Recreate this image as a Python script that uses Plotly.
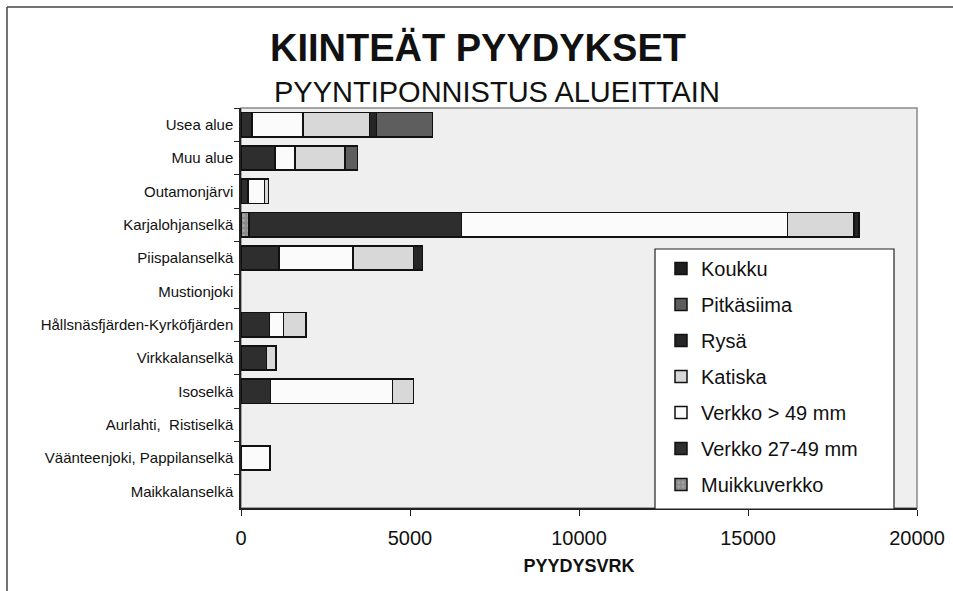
import plotly.graph_objects as go

categories = ["Usea alue", "Muu alue", "Outamonjärvi", "Karjalohjanselkä", "Piispalanselkä",
              "Mustionjoki", "Hållsnäsfjärden-Kyrköfjärden", "Virkkalanselkä", "Isoselkä",
              "Aurlahti,\u00a0\u00a0Ristiselkä", "Väänteenjoki, Pappilanselkä", "Maikkalanselkä"]

muikkuverkko = [None, None, None, 240, None, None, None, None, None, None, None, None]
verkko_27_49 = [330, 1010, 200, 6290, 1130, None, 850, 760, 880, None, None, None]
verkko_49 = [1510, 590, 500, 9640, 2190, None, 400, None, 3600, None, 860, None]
katiska = [1960, 1480, 120, 1960, 1780, None, 680, 280, 620, None, None, None]
rysa = [210, None, None, 150, 270, None, None, None, None, None, None, None]
pitkasiima = [1660, 360, None, None, None, None, None, None, None, None, None, None]
koukku = [None] * 12

x_ticks = [0, 5000, 10000, 15000, 20000]
x_tick_labels = ["0", "5000", "10000", "15000", "20000"]

series = [
    ("Muikkuverkko", muikkuverkko, "#8c8c8c", "."),
    ("Verkko 27-49 mm", verkko_27_49, "#2e2e2e", ""),
    ("Verkko > 49 mm", verkko_49, "#fbfbfb", ""),
    ("Katiska", katiska, "#d8d8d8", ""),
    ("Rysä", rysa, "#262626", ""),
    ("Pitkäsiima", pitkasiima, "#5e5e5e", ""),
    ("Koukku", koukku, "#1e1e1e", ""),
]

W, H = 953, 591
L, R, T, B = 241, 36, 108, 83
PW, PH = W - L - R, H - T - B


def px(x):
    return (x - L) / PW


def py(y):
    return (H - B - y) / PH


fig = go.Figure()
n = len(series)
for i, (name, vals, color, pat) in enumerate(series):
    fig.add_trace(go.Bar(
        y=categories, x=vals, name=name, orientation="h",
        marker=dict(color=color, line=dict(color="#111111", width=1.5),
                    pattern=dict(shape=pat, fgcolor="#bbbbbb", size=5, solidity=0.3) if pat else None),
        legendgroup=name, legendrank=n - i,
    ))

FONT = "Liberation Sans, Arial, sans-serif"

fig.update_layout(
    width=W, height=H,
    barmode="stack", bargap=0.27,
    paper_bgcolor="white", plot_bgcolor="#efefef",
    margin=dict(l=L, r=R, t=T, b=B, autoexpand=False),
    font=dict(family=FONT, color="#111111"),
    showlegend=True,
    legend=dict(
        x=px(661), y=py(249), xanchor="left", yanchor="top",
        bgcolor="rgba(0,0,0,0)", borderwidth=0,
        font=dict(size=20, family=FONT, color="#111111"),
        traceorder="grouped", tracegroupgap=7,
        itemwidth=30,
    ),
    xaxis=dict(
        range=[0, 20000], tickvals=x_ticks, ticktext=x_tick_labels,
        ticks="outside", ticklen=6, tickcolor="#222222",
        showgrid=False, zeroline=False, automargin=False,
        showline=True, linecolor="#222222", linewidth=1.5,
        tickfont=dict(size=20, family=FONT), ticklabelstandoff=5,
        title=dict(text="<b>PYYDYSVRK</b>", font=dict(size=18, family=FONT), standoff=12),
    ),
    yaxis=dict(
        categoryorder="array", categoryarray=categories, autorange="reversed",
        tickson="boundaries", ticks="outside", ticklen=5, tickcolor="#222222",
        showgrid=False, zeroline=False, automargin=False,
        showline=True, linecolor="#222222", linewidth=1.5,
        tickfont=dict(size=15, family=FONT), ticklabelstandoff=3,
    ),
    shapes=[
        dict(type="rect", xref="paper", yref="paper", x0=0, x1=1, y0=0, y1=1,
             line=dict(color="#8a8a8a", width=1.5), layer="below"),
        dict(type="rect", xref="paper", yref="paper", x0=px(655), x1=px(894), y0=py(509), y1=py(249),
             line=dict(color="#222222", width=1.2), fillcolor="white", layer="above"),
        dict(type="line", xref="paper", yref="paper", x0=px(7), x1=px(7), y0=py(7), y1=py(591),
             line=dict(color="#444444", width=1.5)),
        dict(type="line", xref="paper", yref="paper", x0=px(7), x1=px(953), y0=py(7), y1=py(7),
             line=dict(color="#444444", width=1.5)),
    ],
    annotations=[
        dict(text="<b>KIINTEÄT PYYDYKSET</b>", xref="paper", yref="paper", x=px(478), y=py(48),
             xanchor="center", yanchor="middle", showarrow=False,
             font=dict(size=38, family=FONT, color="#111111")),
        dict(text="PYYNTIPONNISTUS ALUEITTAIN", xref="paper", yref="paper", x=px(497), y=py(92),
             xanchor="center", yanchor="middle", showarrow=False,
             font=dict(size=29, family=FONT, color="#111111")),
    ],
)

fig.write_html("out.html", config={"displayModeBar": False},
               post_script="document.body.style.margin='0';document.body.style.padding='0';document.body.style.overflow='hidden';")
